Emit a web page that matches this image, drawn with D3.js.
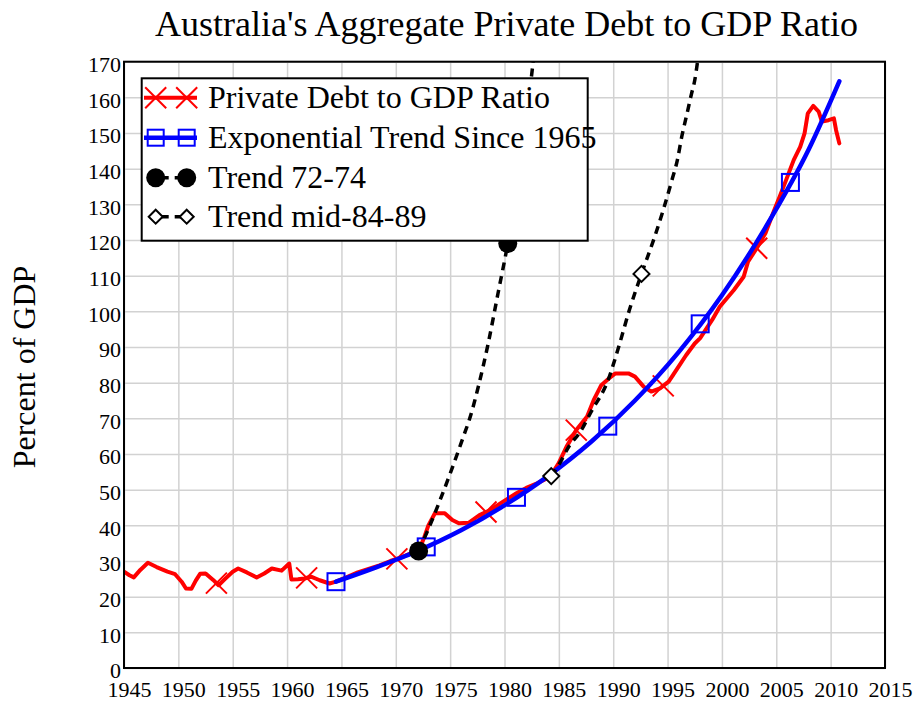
<!DOCTYPE html>
<html>
<head>
<meta charset="utf-8">
<title>Australia's Aggregate Private Debt to GDP Ratio</title>
<script src="https://d3js.org/d3.v7.min.js"></script>
<style>
  body{margin:0;background:#fff;}
  text{font-family:"Liberation Serif","Times New Roman",serif;fill:#000;}
  .grid line{stroke:#d2d2d2;stroke-width:1.5;}
  .grid .domain{display:none;}
  .labels .domain{display:none;}
</style>
</head>
<body>
<script>
const W = 917, H = 702;

// private debt to GDP
const debtYears = [1945.0,1945.5,1945.9,1946.5,1947.2,1948.0,1949.0,1949.7,1950.3,1950.7,1951.2,1951.6,1952.0,1952.5,1953.2,1953.7,1954.3,1955.0,1955.5,1956.3,1957.2,1957.9,1958.6,1959.5,1960.2,1960.4,1961.0,1961.6,1962.2,1963.0,1963.9,1964.5,1965.5,1966.5,1967.5,1968.5,1969.5,1970.5,1971.5,1972.2,1972.6,1973.0,1973.6,1974.5,1975.2,1975.8,1976.7,1977.7,1978.7,1979.8,1981.1,1982.0,1983.0,1984.2,1985.0,1985.7,1986.6,1987.6,1988.2,1988.9,1989.6,1990.2,1991.4,1992.0,1992.8,1993.5,1994.3,1995.1,1995.8,1996.7,1997.5,1998.0,1999.1,1999.8,2001.1,2002.0,2002.4,2003.2,2004.0,2004.7,2005.3,2005.9,2006.6,2007.2,2007.6,2007.9,2008.4,2008.9,2009.2,2009.8,2010.3,2010.5,2010.8];
const debtValues = [27.0,26.0,25.4,27.5,29.5,28.3,27.0,26.3,24.2,22.3,22.2,24.5,26.4,26.5,24.7,23.2,25.0,27.0,27.9,26.8,25.4,26.5,27.9,27.3,29.3,24.8,24.9,25.1,25.6,24.6,23.7,24.2,25.5,26.8,27.8,28.8,30.0,31.0,32.3,33.5,36.5,40.0,43.4,43.4,41.5,40.6,40.7,42.9,44.3,46.5,49.0,50.5,51.8,53.6,57.5,62.0,66.7,70.5,75.1,79.3,81.2,82.6,82.6,81.7,78.9,77.5,78.4,80.3,83.5,87.7,91.0,92.5,97.6,101.3,106.0,109.7,113.9,117.7,121.9,127.5,132.1,136.8,142.4,146.1,149.9,155.5,157.6,156.0,153.2,153.6,154.1,150.8,147.1];
const debtMarkYears = [1953.5,1961.8,1970.1,1978.3,1986.6,1994.6,2003.2];

// exponential trend since 1965
const trendYears = [1964.5,1968,1972,1976,1980,1984,1988,1992,1996,2000,2004,2008,2010.8];
const trendValues = [24.2,28.0,32.8,38.6,45.6,53.8,63.5,75.0,88.5,104.5,123.5,145.5,164.5];
const trendMarkYears = [1964.5,1972.8,1981.1,1989.5,1998.0,2006.3];

// trend 72-74
const t7274Years = [1972.1,1973,1974,1975,1976,1977,1977.6,1978.5,1979.4,1980.3,1981.5,1982.6,1983];
const t7274Values = [32.8,39,46.5,54.5,63,72,79,91,105,119,142,169,180];
const t7274MarkYears = [1972.1,1980.3];

// trend mid-84-89
const t8489Years = [1984.3,1985,1986,1986.9,1988,1989.5,1990.5,1991.5,1992.6,1993.8,1994.6,1995.4,1995.9,1996.3,1996.8,1997.2,1997.5,1997.8];
const t8489Values = [53.8,57,62.5,65.9,72,80.5,90,100.5,110.5,120.8,128.4,136.8,142.4,148.9,155.6,161,164.8,171];
const t8489MarkYears = [1984.3,1992.6];

const xTicks = d3.range(1945, 2016, 5);
const yTicks = d3.range(0, 171, 10);

const legendLabels = ["Private Debt to GDP Ratio","Exponential Trend Since 1965","Trend 72-74","Trend mid-84-89"];

// layout
const plot = {left:124, right:885, top:61.7, bottom:668};

const x = d3.scaleLinear().domain([1945,2015]).range([plot.left, plot.right]);
const y = d3.scaleLinear().domain([0,170]).range([plot.bottom, plot.top]);

function interp(xs, vs, t){
  const i = Math.max(1, Math.min(xs.length-1, d3.bisectLeft(xs, t)));
  const a = xs[i-1], b = xs[i];
  const k = (t-a)/(b-a);
  return vs[i-1] + k*(vs[i]-vs[i-1]);
}
function pts(xs, vs){ return xs.map((d,i)=>[d, vs[i]]); }

const svg = d3.select("body").append("svg")
  .attr("width", W).attr("height", H);

svg.append("defs").append("clipPath").attr("id","clip")
  .append("rect")
  .attr("x", plot.left).attr("y", plot.top)
  .attr("width", plot.right-plot.left).attr("height", plot.bottom-plot.top);

// grid
svg.append("g").attr("class","grid")
  .attr("transform","translate(0,"+plot.bottom+")")
  .call(d3.axisBottom(x).tickValues(xTicks).tickSize(-(plot.bottom-plot.top)).tickFormat(""));
svg.append("g").attr("class","grid")
  .attr("transform","translate("+plot.left+",0)")
  .call(d3.axisLeft(y).tickValues(yTicks).tickSize(-(plot.right-plot.left)).tickFormat(""));

// tick labels
const xl = svg.append("g").attr("class","labels")
  .attr("transform","translate(0,"+plot.bottom+")")
  .call(d3.axisBottom(x).tickValues(xTicks).tickSize(0).tickPadding(0).tickFormat(d3.format("d")));
xl.attr("font-size",22);
xl.selectAll("text").attr("dy",null).attr("y",29).attr("dx",5);

const yl = svg.append("g").attr("class","labels")
  .attr("transform","translate("+(plot.left-3)+",0)")
  .call(d3.axisLeft(y).tickValues(yTicks).tickSize(0).tickPadding(0));
yl.attr("font-size",22);
yl.selectAll("text").attr("dy","0.45em");

// series
const line = d3.line().x(d=>x(d[0])).y(d=>y(d[1]));
const smooth = d3.line().curve(d3.curveMonotoneX).x(d=>x(d[0])).y(d=>y(d[1]));
const g = svg.append("g").attr("clip-path","url(#clip)");

function xMark(sel, cx, cy, r){
  sel.append("path")
    .attr("d", "M"+(cx-r)+","+(cy-r)+"L"+(cx+r)+","+(cy+r)+"M"+(cx-r)+","+(cy+r)+"L"+(cx+r)+","+(cy-r))
    .attr("stroke","#ff0000").attr("stroke-width",2).attr("fill","none");
}
function sqMark(sel, cx, cy, s){
  sel.append("rect").attr("x",cx-s/2).attr("y",cy-s/2).attr("width",s).attr("height",s)
    .attr("fill","none").attr("stroke","#0000ff").attr("stroke-width",2);
}
function dotMark(sel, cx, cy, r){
  sel.append("circle").attr("cx",cx).attr("cy",cy).attr("r",r).attr("fill","#000");
}
function diaMark(sel, cx, cy, r){
  sel.append("path")
    .attr("d","M"+cx+","+(cy-r)+"L"+(cx+r)+","+cy+"L"+cx+","+(cy+r)+"L"+(cx-r)+","+cy+"Z")
    .attr("fill","#fff").attr("stroke","#000").attr("stroke-width",2);
}

g.append("path").datum(pts(debtYears, debtValues))
  .attr("d", line).attr("fill","none")
  .attr("stroke","#ff0000").attr("stroke-width",4).attr("stroke-linejoin","round").attr("stroke-linecap","round");
debtMarkYears.forEach(t => xMark(g, x(t), y(interp(debtYears, debtValues, t)), 10.5));

g.append("path").datum(pts(trendYears, trendValues))
  .attr("d", smooth).attr("fill","none")
  .attr("stroke","#0000ff").attr("stroke-width",4.5).attr("stroke-linecap","round");
trendMarkYears.forEach(t => sqMark(g, x(t), y(interp(trendYears, trendValues, t)), 17));

g.append("path").datum(pts(t7274Years, t7274Values))
  .attr("d", smooth).attr("fill","none")
  .attr("stroke","#000").attr("stroke-width",3.5).attr("stroke-dasharray","8,6");
t7274MarkYears.forEach(t => dotMark(g, x(t), y(interp(t7274Years, t7274Values, t)), 9.5));

g.append("path").datum(pts(t8489Years, t8489Values))
  .attr("d", smooth).attr("fill","none")
  .attr("stroke","#000").attr("stroke-width",3.5).attr("stroke-dasharray","8,6");
t8489MarkYears.forEach(t => diaMark(g, x(t), y(interp(t8489Years, t8489Values, t)), 8));

// frame
svg.append("rect")
  .attr("x", plot.left).attr("y", plot.top)
  .attr("width", plot.right-plot.left).attr("height", plot.bottom-plot.top)
  .attr("fill","none").attr("stroke","#000").attr("stroke-width",2);

// legend
const lg = svg.append("g");
lg.append("rect").attr("x",141.7).attr("y",78.3).attr("width",446).attr("height",162.4)
  .attr("fill","#fff").attr("stroke","#000").attr("stroke-width",2);
const rowY = [97.7, 137.7, 177.7, 216.7];
const m1 = 155.7, m2 = 186.7;
// red
lg.append("line").attr("x1",144).attr("x2",197).attr("y1",rowY[0]).attr("y2",rowY[0])
  .attr("stroke","#ff0000").attr("stroke-width",4);
xMark(lg, m1, rowY[0], 10.5); xMark(lg, m2, rowY[0], 10.5);
// blue
lg.append("line").attr("x1",144).attr("x2",197).attr("y1",rowY[1]).attr("y2",rowY[1])
  .attr("stroke","#0000ff").attr("stroke-width",4.5);
sqMark(lg, m1, rowY[1], 16); sqMark(lg, m2, rowY[1], 16);
// trend 72-74
lg.append("line").attr("x1",m1).attr("x2",m2).attr("y1",rowY[2]).attr("y2",rowY[2])
  .attr("stroke","#000").attr("stroke-width",3.5).attr("stroke-dasharray","9,6").attr("stroke-dashoffset",-4);
dotMark(lg, m1, rowY[2], 9.5); dotMark(lg, m2, rowY[2], 9.5);
// trend 84-89
lg.append("line").attr("x1",m1).attr("x2",m2).attr("y1",rowY[3]).attr("y2",rowY[3])
  .attr("stroke","#000").attr("stroke-width",3.5).attr("stroke-dasharray","9,6").attr("stroke-dashoffset",-4);
diaMark(lg, m1, rowY[3], 7); diaMark(lg, m2, rowY[3], 7);

lg.selectAll("text.leg").data(legendLabels).enter().append("text")
  .attr("class","leg")
  .attr("x",208).attr("y",(d,i)=>rowY[i]+10)
  .attr("font-size",32)
  .text(d=>d);

// title and y label
svg.append("text").attr("x",506.5).attr("y",36)
  .attr("text-anchor","middle").attr("font-size",36)
  .text("Australia's Aggregate Private Debt to GDP Ratio");

svg.append("text")
  .attr("transform","translate(35,367) rotate(-90)")
  .attr("text-anchor","middle").attr("font-size",32)
  .text("Percent of GDP");
</script>
</body>
</html>
